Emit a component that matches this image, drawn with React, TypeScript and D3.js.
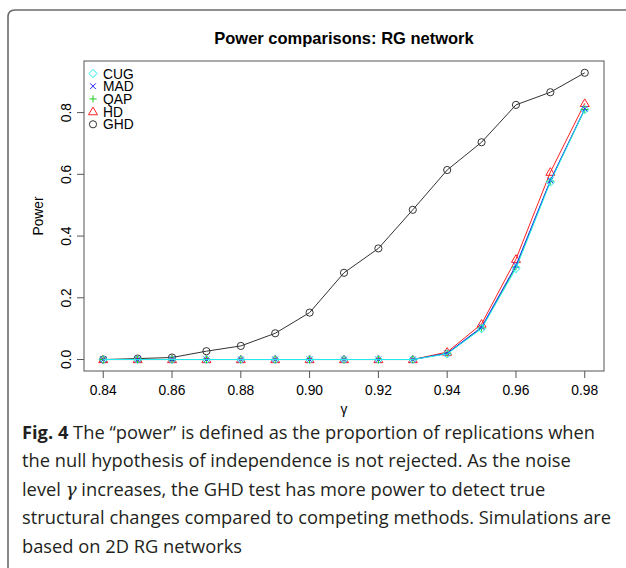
import React from "react";
import * as d3 from "d3";

const gammas = [0.84, 0.85, 0.86, 0.87, 0.88, 0.89, 0.9, 0.91, 0.92, 0.93, 0.94, 0.95, 0.96, 0.97, 0.98];
const cug = [0, 0, 0, 0, 0, 0, 0, 0, 0, 0, 0.018, 0.1, 0.295, 0.575, 0.81];
const mad = [0, 0, 0, 0, 0, 0, 0, 0, 0, 0, 0.02, 0.105, 0.305, 0.58, 0.812];
const qap = [0, 0, 0, 0, 0, 0, 0, 0, 0, 0, 0.02, 0.102, 0.3, 0.578, 0.81];
const hd = [0, 0, 0, 0, 0, 0, 0, 0, 0, 0, 0.024, 0.115, 0.325, 0.607, 0.83];
const ghd = [0, 0.003, 0.0065, 0.027, 0.044, 0.085, 0.152, 0.281, 0.36, 0.485, 0.614, 0.704, 0.825, 0.866, 0.929];
const xTicks = [0.84, 0.86, 0.88, 0.9, 0.92, 0.94, 0.96, 0.98];
const yTicks = [0, 0.2, 0.4, 0.6, 0.8];
const seriesNames = ["CUG", "MAD", "QAP", "HD", "GHD"];

const W = 626;
const H = 568;
const L = 84, R = 604, T = 61, B = 371;
const font = "'Liberation Sans', Arial, Helvetica, sans-serif";
const fs = 13.8;

type Series = { name: string; values: number[]; color: string; pch: string };

const series: Series[] = [
  { name: "GHD", values: ghd, color: "#333333", pch: "circle" },
  { name: "HD", values: hd, color: "#ff2020", pch: "triangle" },
  { name: "QAP", values: qap, color: "#22cc22", pch: "plus" },
  { name: "MAD", values: mad, color: "#2020ff", pch: "cross" },
  { name: "CUG", values: cug, color: "#22eeee", pch: "diamond" },
];

function Marker({ pch, x, y, color }: { pch: string; x: number; y: number; color: string }) {
  const s = 3.6;
  const common = { fill: "none", stroke: color, strokeWidth: 1 };
  if (pch === "circle") return <circle cx={x} cy={y} r={s} {...common} />;
  if (pch === "triangle") {
    const h = s * 1.25;
    return <path d={`M${x},${y - h} L${x + h},${y + h * 0.7} L${x - h},${y + h * 0.7} Z`} {...common} />;
  }
  if (pch === "plus") return <path d={`M${x - s},${y} H${x + s} M${x},${y - s} V${y + s}`} {...common} />;
  if (pch === "cross") {
    const c = s * 0.8;
    return <path d={`M${x - c},${y - c} L${x + c},${y + c} M${x - c},${y + c} L${x + c},${y - c}`} {...common} />;
  }
  const d = s * 1.15;
  return <path d={`M${x},${y - d} L${x + d},${y} L${x},${y + d} L${x - d},${y} Z`} {...common} />;
}

export default function App() {
  const x = d3.scaleLinear().domain([0.84 - 0.0056, 0.98 + 0.0056]).range([L, R]);
  const y = d3.scaleLinear().domain([-0.0372, 0.9672]).range([B, T]);
  const line = d3
    .line<number>()
    .x((_, i) => x(gammas[i]))
    .y((v) => y(v));

  const legendColors: Record<string, Series> = {};
  series.forEach((s) => (legendColors[s.name] = s));

  const captionFont = "'Open Sans', 'Noto Sans', sans-serif";
  const capColor = "#231f20";
  const capSize = 18.3;
  const capX = 22;
  const capY0 = 439;
  const lh = 28.4;

  return (
    <svg width={W} height={H} style={{ position: "absolute", left: 0, top: 0 }} xmlns="http://www.w3.org/2000/svg">
      <rect x={0} y={0} width={W} height={H} fill="#ffffff" />
      <path d={`M8,${H + 10} V17 Q8,10 15,10 H${W + 10}`} fill="none" stroke="#6a6a6a" strokeWidth={1.6} />

      <text x={(L + R) / 2} y={44} textAnchor="middle" fontFamily={font} fontWeight="bold" fontSize={16.5} fill="#000">
        Power comparisons: RG network
      </text>

      {series.map((s) => (
        <g key={s.name}>
          <path d={line(s.values) || ""} fill="none" stroke={s.color} strokeWidth={1} />
          {s.values.map((v, i) => (
            <Marker key={i} pch={s.pch} x={x(gammas[i])} y={y(v)} color={s.color} />
          ))}
        </g>
      ))}

      <rect x={L} y={T} width={R - L} height={B - T} fill="none" stroke="#555" strokeWidth={1} />

      {xTicks.map((t) => (
        <g key={t}>
          <line x1={x(t)} x2={x(t)} y1={B} y2={B + 7} stroke="#555" />
          <text x={x(t)} y={B + 24} textAnchor="middle" fontFamily={font} fontSize={fs} fill="#000">
            {d3.format(".2f")(t)}
          </text>
        </g>
      ))}
      {yTicks.map((t) => (
        <g key={t}>
          <line x1={L} x2={L - 7} y1={y(t)} y2={y(t)} stroke="#555" />
          <text
            transform={`translate(${L - 13},${y(t)}) rotate(-90)`}
            textAnchor="middle"
            fontFamily={font}
            fontSize={fs}
            fill="#000"
          >
            {d3.format(".1f")(t)}
          </text>
        </g>
      ))}
      <text transform={`translate(${43},${(T + B) / 2}) rotate(-90)`} textAnchor="middle" fontFamily={font} fontSize={fs} fill="#000">
        Power
      </text>
      <text x={(L + R) / 2} y={414} textAnchor="middle" fontFamily={font} fontSize={fs} fill="#000">
        γ
      </text>

      {seriesNames.map((n, i) => {
        const s = legendColors[n];
        const ly = 73.5 + i * 12.7;
        return (
          <g key={n}>
            <Marker pch={s.pch} x={93} y={ly} color={s.color} />
            <text x={103} y={ly + 5} fontFamily={font} fontSize={fs} fill="#000">
              {n}
            </text>
          </g>
        );
      })}

      <g fontFamily={captionFont} fontSize={capSize} fill={capColor}>
        <text x={capX} y={capY0}>
          <tspan fontWeight="bold">Fig. 4</tspan>
          <tspan> The “power” is defined as the proportion of replications when</tspan>
        </text>
        <text x={capX} y={capY0 + lh}>
          the null hypothesis of independence is not rejected. As the noise
        </text>
        <text x={capX} y={capY0 + 2 * lh}>
          <tspan>level </tspan>
          <tspan fontStyle="italic" fontFamily="'DejaVu Serif', serif">γ</tspan>
          <tspan> increases, the GHD test has more power to detect true</tspan>
        </text>
        <text x={capX} y={capY0 + 3 * lh}>
          structural changes compared to competing methods. Simulations are
        </text>
        <text x={capX} y={capY0 + 4 * lh}>
          based on 2D RG networks
        </text>
      </g>
    </svg>
  );
}
